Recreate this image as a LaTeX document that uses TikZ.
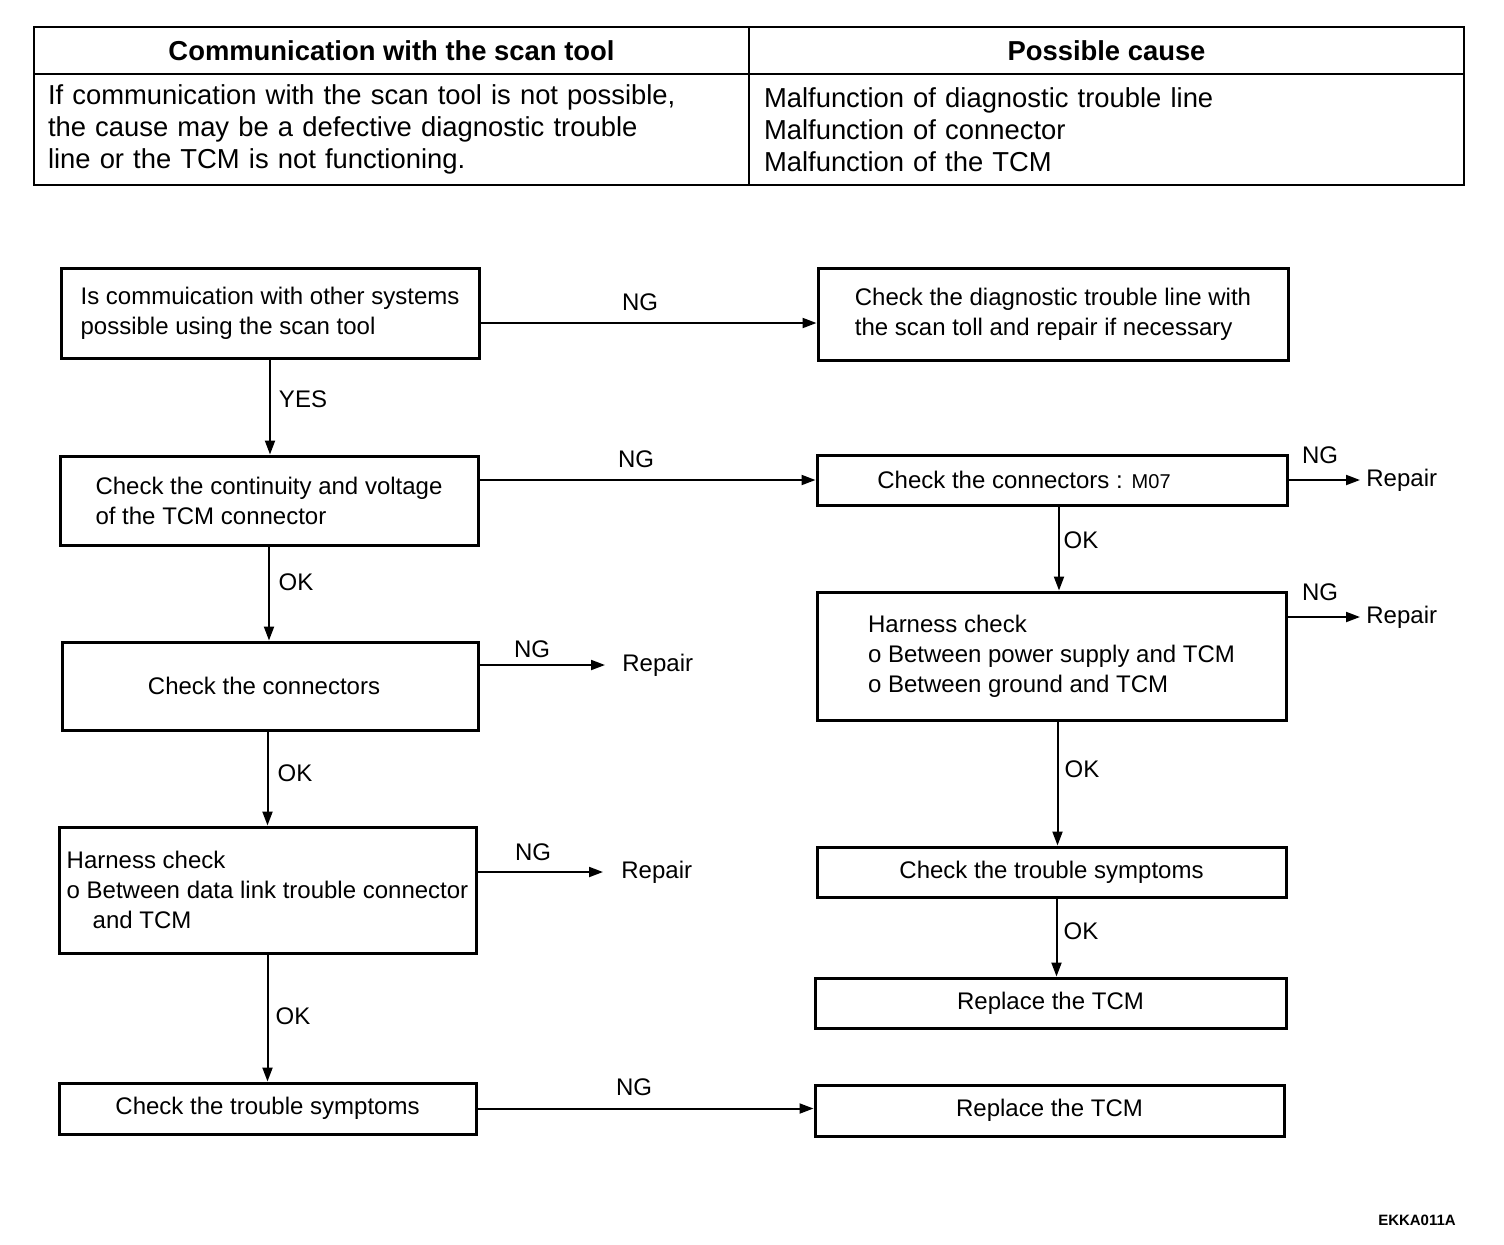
\documentclass[tikz,border=0pt]{standalone}
\usepackage{fontspec}
\setmainfont{Liberation Sans}
\usetikzlibrary{arrows.meta,calc}
\begin{document}
\begin{tikzpicture}[x=0.5pt,y=-0.5pt,
  box/.style={draw,line width=1.5pt,align=left,inner sep=0pt,font=\fontsize{12}{15}\selectfont},
  cell/.style={draw,line width=1pt,inner sep=0pt,anchor=north west,minimum width=357.5pt},
  arr/.style={line width=1pt,-{Triangle[length=7pt,width=5pt]}},
  lbl/.style={font=\fontsize{12}{14}\selectfont,inner sep=0pt},
  rep/.style={font=\fontsize{12}{14}\selectfont,inner sep=0pt,anchor=west}]
\useasboundingbox (0,0) rectangle (1504,1244);
% table
\node[cell,minimum height=23.5pt,font=\fontsize{13.7}{16}\selectfont\bfseries] (h1) at (33,26) {Communication with the scan tool};
\node[cell,minimum height=23.5pt,font=\fontsize{13.7}{16}\selectfont\bfseries] (h2) at (748,26) {Possible cause};
\node[cell,minimum height=55.5pt,inner xsep=7pt,text width=343.5pt,align=left,font=\fontsize{13.7}{16}\selectfont] (b1) at (33,73) {If communication with the scan tool is not possible,\\the cause may be a defective diagnostic trouble\\line or the TCM is not functioning.};
\node[cell,minimum height=55.5pt,inner xsep=7.5pt,text width=342.5pt,align=left,font=\fontsize{13.7}{16}\selectfont] (b2) at (748,73) {Malfunction of diagnostic trouble line\\Malfunction of connector\\Malfunction of the TCM};
% boxes
\node[box,minimum width=209pt,minimum height=45pt] (A) at (270,313) {Is commuication with other systems\\possible using the scan tool};
\node[box,minimum width=235pt,minimum height=46pt] (B) at (1053,314) {Check the diagnostic trouble line with\\the scan toll and repair if necessary};
\node[box,minimum width=209pt,minimum height=44.5pt] (C) at (269,500.5) {Check the continuity and voltage\\of the TCM connector};
\node[box,minimum width=235pt,minimum height=25pt] (D) at (1052,480) {Check the connectors : {\fontsize{10}{12}\selectfont M07}\hspace*{28pt}};
\node[box,minimum width=208pt,minimum height=44pt] (E) at (270,686) {Check the connectors\hspace*{6pt}};
\node[box,minimum width=208.5pt,minimum height=63pt] (F) at (267.5,890) {Harness check\\o Between data link trouble connector\\\hspace*{13pt}and TCM};
\node[box,minimum width=208.5pt,minimum height=25.5pt] (G) at (267.5,1108.5) {Check the trouble symptoms};
\node[box,minimum width=234.5pt,minimum height=64pt] (H) at (1051.5,656) {Harness check\\o Between power supply and TCM\\o Between ground and TCM};
\node[box,minimum width=234.5pt,minimum height=25pt] (I) at (1051.5,872) {Check the trouble symptoms};
\node[box,minimum width=235.5pt,minimum height=25pt] (J) at (1050.5,1003) {Replace the TCM};
\node[box,minimum width=234.5pt,minimum height=25.5pt] (K) at (1049.5,1110.5) {Replace the TCM};
% repair nodes
\node[rep] (rD) at (1366,480) {Repair};
\node[rep] (rH) at (1366,617) {Repair};
\node[rep] (rE) at (622,665) {Repair};
\node[rep] (rF) at (621,872) {Repair};
% arrows
\draw[arr] ([yshift=-5pt]A.east) -- ([yshift=-5pt]A.east -| B.west);
\draw[arr] (A.south) -- (A.south |- C.north);
\draw[arr] (C.east |- D.west) -- (D.west);
\draw[arr] (D.east |- rD.west) -- ([xshift=-3pt]rD.west);
\draw[arr] ([xshift=3.5pt]D.south) -- ([xshift=3.5pt]D.south |- H.north);
\draw[arr] (H.east |- rH.west) -- ([xshift=-3pt]rH.west);
\draw[arr] (C.south) -- (C.south |- E.north);
\draw[arr] (E.east |- rE.west) -- ([xshift=-8.5pt]rE.west);
\draw[arr] (E.south -| F.north) -- (F.north);
\draw[arr] (F.east |- rF.west) -- ([xshift=-9pt]rF.west);
\draw[arr] (F.south) -- (F.south |- G.north);
\draw[arr] (G.east) -- (G.east -| K.west);
\draw[arr] ([xshift=3pt]H.south) -- ([xshift=3pt]H.south |- I.north);
\draw[arr] ([xshift=2.5pt]I.south) -- ([xshift=2.5pt]I.south |- J.north);
% labels
\node[lbl] (l1) at (640,302) {NG};
\node[lbl] (l2) at (303,399) {YES};
\node[lbl] (l3) at (636,459) {NG};
\node[lbl] (l4) at (1320,455) {NG};
\node[lbl] (l5) at (1081,540) {OK};
\node[lbl] (l6) at (1320,592) {NG};
\node[lbl] (l7) at (296,582) {OK};
\node[lbl] (l8) at (532,649) {NG};
\node[lbl] (l9) at (295,773) {OK};
\node[lbl] (l10) at (533,852) {NG};
\node[lbl] (l11) at (293,1016) {OK};
\node[lbl] (l12) at (634,1087) {NG};
\node[lbl] (l13) at (1082,769) {OK};
\node[lbl] (l14) at (1081,931) {OK};
\node[inner sep=0pt,font=\fontsize{7.5}{9}\selectfont\bfseries] (code) at (1417,1220) {EKKA011A};
\end{tikzpicture}
\end{document}
